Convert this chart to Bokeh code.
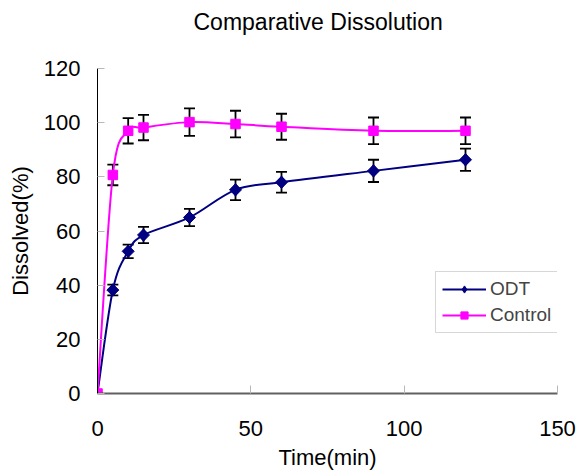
import numpy as np
from bokeh.plotting import figure
from bokeh.models import (ColumnDataSource, Whisker, TeeHead, Legend, LegendItem,
                          Range1d, FixedTicker, Title)
from bokeh.embed import file_html
from bokeh.resources import INLINE

# ---- data ----
time = [0, 5, 10, 15, 30, 45, 60, 90, 120]
odt = [0, 38.2, 52.5, 58.5, 65.0, 75.2, 78.0, 82.2, 86.3]
odt_err = [0, 2.0, 2.5, 3.0, 3.2, 3.8, 3.8, 4.1, 4.1]
control = [0, 80.7, 97.0, 98.2, 100.2, 99.5, 98.5, 97.0, 97.0]
control_err = [0, 3.8, 4.7, 4.7, 5.1, 4.9, 4.8, 4.9, 4.9]

x_ticks = [0, 50, 100, 150]
y_ticks = [0, 20, 40, 60, 80, 100, 120]

FONT = "Liberation Sans"
ODT_COLOR = "#000080"
CTRL_COLOR = "#FF00FF"

p = figure(width=576, height=474, output_backend="svg", toolbar_location=None,
           x_range=Range1d(0, 150), y_range=Range1d(0, 120),
           min_border_left=97, min_border_right=19, min_border_top=68,
           min_border_bottom=81, title=None)
p.outline_line_color = None
p.grid.visible = False
p.background_fill_color = "white"
p.border_fill_color = "white"

# spacer between frame and title, then the title itself
p.add_layout(Title(text=" ", text_font_size="20px", standoff=10), "above")
p.add_layout(Title(text="Comparative Dissolution", text_font=FONT,
                   text_font_size="23px", text_font_style="normal",
                   text_color="black", align="left", offset=96,
                   vertical_align="bottom", standoff=0), "above")

# axes
p.xaxis.ticker = FixedTicker(ticks=x_ticks)
p.yaxis.ticker = FixedTicker(ticks=y_ticks)
p.xaxis.minor_tick_line_color = None
p.yaxis.minor_tick_line_color = None
p.xaxis.major_tick_in = 8
p.xaxis.major_tick_out = 0
p.yaxis.major_tick_in = 7
p.yaxis.major_tick_out = 0
p.xaxis.major_tick_line_color = "#b8b8b8"
p.yaxis.major_tick_line_color = "#b8b8b8"
p.xaxis.axis_line_color = "#606060"
p.xaxis.axis_line_width = 2
p.yaxis.axis_line_color = "black"
p.yaxis.axis_line_width = 1
for ax in (p.xaxis, p.yaxis):
    ax.major_label_text_font = FONT
    ax.major_label_text_font_size = "22px"
    ax.major_label_text_color = "black"
    ax.axis_label_text_font = FONT
    ax.axis_label_text_font_size = "22px"
    ax.axis_label_text_font_style = "normal"
    ax.axis_label_text_color = "black"
p.xaxis.major_label_standoff = 27
p.yaxis.major_label_standoff = 17
p.xaxis.axis_label = "Time(min)"
p.yaxis.axis_label = "Dissolved(%)"
p.xaxis.axis_label_standoff = 6
p.yaxis.axis_label_standoff = 8


def smooth(xs, ys):
    xs = np.asarray(xs, float)
    ys = np.asarray(ys, float)
    n = len(xs)
    idx = np.arange(n - 1)
    prev_i = np.clip(idx - 1, 0, n - 1)
    next_i = np.clip(idx + 2, 0, n - 1)
    cx0 = xs[idx] + (xs[idx + 1] - xs[prev_i]) / 6
    cy0 = ys[idx] + (ys[idx + 1] - ys[prev_i]) / 6
    cx1 = xs[idx + 1] - (xs[next_i] - xs[idx]) / 6
    cy1 = ys[idx + 1] - (ys[next_i] - ys[idx]) / 6
    return dict(x0=xs[:-1], y0=ys[:-1], x1=xs[1:], y1=ys[1:],
                cx0=cx0, cy0=cy0, cx1=cx1, cy1=cy1)


items = []
for name, vals, errs, color in [("ODT", odt, odt_err, ODT_COLOR),
                                ("Control", control, control_err, CTRL_COLOR)]:
    bz = p.bezier(source=ColumnDataSource(smooth(time, vals)),
                  x0="x0", y0="y0", x1="x1", y1="y1",
                  cx0="cx0", cy0="cy0", cx1="cx1", cy1="cy1",
                  line_color=color, line_width=2)
    src = ColumnDataSource(dict(x=time, y=vals,
                                upper=[v + e for v, e in zip(vals, errs)],
                                lower=[v - e for v, e in zip(vals, errs)]))
    w = Whisker(source=src, base="x", upper="upper", lower="lower",
                line_color="black", line_width=1.8,
                upper_head=TeeHead(size=11, line_color="black", line_width=1.8),
                lower_head=TeeHead(size=11, line_color="black", line_width=1.8))
    p.add_layout(w)
    if name == "ODT":
        mk = p.scatter("x", "y", source=src, marker="diamond", size=12.5,
                       fill_color=color, line_color=color)
        p.scatter("x", "y", source=src, marker="square", size=8.5,
                  angle=np.pi / 4, fill_color=color, line_color=color)
    else:
        mk = p.scatter("x", "y", source=src, marker="square", size=9.5,
                       fill_color=color, line_color=color)
    items.append(LegendItem(label=name, renderers=[bz, mk]))

legend = Legend(items=items, location=(338, 60), label_text_font=FONT,
                label_text_font_size="19px", border_line_color="#b0b0b0",
                border_line_width=1, background_fill_color="white",
                glyph_width=44, glyph_height=18, spacing=4, padding=6,
                margin=0, label_standoff=4)
p.add_layout(legend, "center")

open("out.html", "w").write(file_html(p, INLINE))
